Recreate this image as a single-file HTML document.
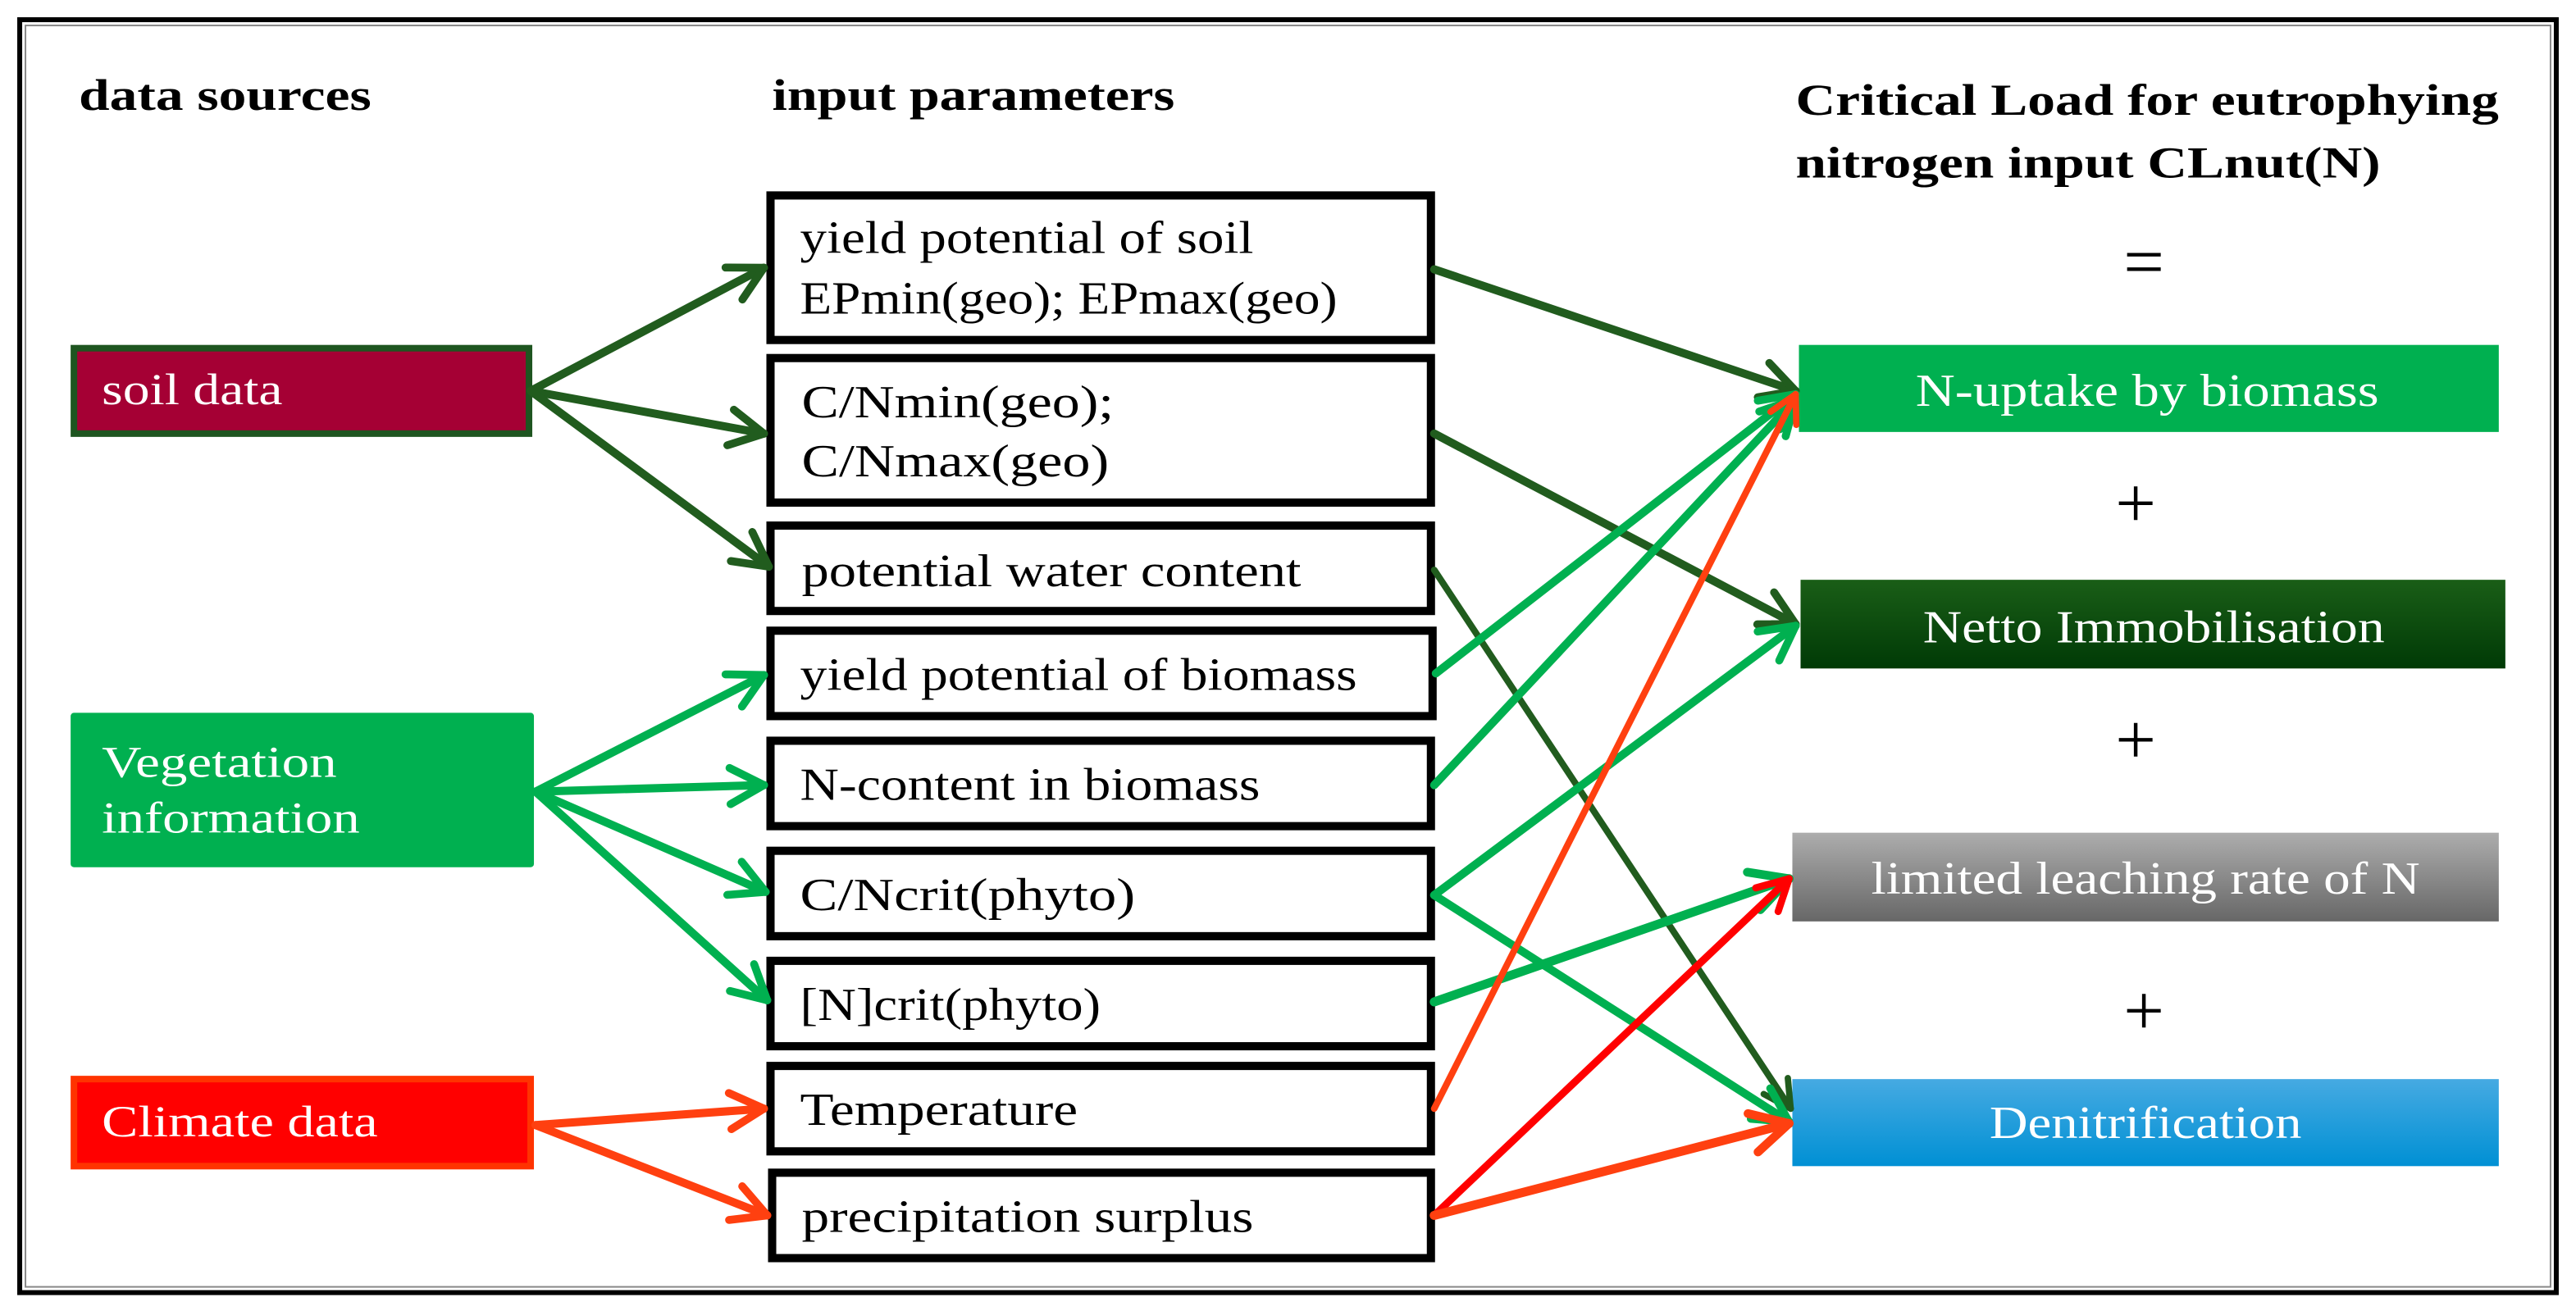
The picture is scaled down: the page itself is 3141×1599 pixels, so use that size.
<!DOCTYPE html>
<html><head><meta charset="utf-8"><style>
html,body{margin:0;padding:0;background:#fff}
svg{display:block}
text{font-family:"Liberation Serif",serif}
</style></head><body>
<svg width="3141" height="1599" viewBox="0 0 1568 798.2" preserveAspectRatio="none" xmlns="http://www.w3.org/2000/svg">
<defs>
<linearGradient id="gN" x1="0" y1="0" x2="0" y2="1"><stop offset="0" stop-color="#1a5e17"/><stop offset="1" stop-color="#003a06"/></linearGradient>
<linearGradient id="gG" x1="0" y1="0" x2="0" y2="1"><stop offset="0" stop-color="#adadad"/><stop offset="1" stop-color="#676767"/></linearGradient>
<linearGradient id="gB" x1="0" y1="0" x2="0" y2="1"><stop offset="0" stop-color="#46aae2"/><stop offset="1" stop-color="#0090d4"/></linearGradient>
<marker id="mD" viewBox="0 0 20 20" refX="18" refY="10" markerWidth="5.5" markerHeight="5.5" orient="auto" markerUnits="strokeWidth"><path d="M3,2 L18,10 L3,18" fill="none" stroke="#215c1e" stroke-width="3.5" stroke-linecap="round" stroke-linejoin="round"/></marker>
<marker id="mL" viewBox="0 0 20 20" refX="18" refY="10" markerWidth="5.5" markerHeight="5.5" orient="auto" markerUnits="strokeWidth"><path d="M3,2 L18,10 L3,18" fill="none" stroke="#00b050" stroke-width="3.5" stroke-linecap="round" stroke-linejoin="round"/></marker>
<marker id="mO" viewBox="0 0 20 20" refX="18" refY="10" markerWidth="5.5" markerHeight="5.5" orient="auto" markerUnits="strokeWidth"><path d="M3,2 L18,10 L3,18" fill="none" stroke="#ff4010" stroke-width="3.5" stroke-linecap="round" stroke-linejoin="round"/></marker>
<marker id="mR" viewBox="0 0 20 20" refX="18" refY="10" markerWidth="5.5" markerHeight="5.5" orient="auto" markerUnits="strokeWidth"><path d="M3,2 L18,10 L3,18" fill="none" stroke="#ff0000" stroke-width="3.5" stroke-linecap="round" stroke-linejoin="round"/></marker>
</defs>
<rect x="0" y="0" width="1568" height="798.2" fill="#fff"/>
<rect x="12" y="12" width="1544" height="775" fill="none" stroke="#000" stroke-width="3"/>
<rect x="15.5" y="15.5" width="1537" height="768" fill="none" stroke="#888" stroke-width="1"/>

<g font-weight="bold" font-size="27" fill="#000">
<text x="48" y="67" textLength="178" lengthAdjust="spacingAndGlyphs">data sources</text>
<text x="470" y="67" textLength="245" lengthAdjust="spacingAndGlyphs">input parameters</text>
<text x="1093" y="70" textLength="428" lengthAdjust="spacingAndGlyphs">Critical Load for eutrophying</text>
<text x="1093" y="108" textLength="356" lengthAdjust="spacingAndGlyphs">nitrogen input CLnut(N)</text>
</g>
<g font-size="44" fill="#000" text-anchor="middle">
<text x="1305" y="174">=</text>
<text x="1300" y="321">+</text>
<text x="1300" y="465">+</text>
<text x="1305" y="630">+</text>
</g>

<rect x="45" y="212" width="277" height="52" fill="#a50034" stroke="#1e5520" stroke-width="4"/>
<text x="62" y="246" font-size="27" fill="#fff" textLength="110" lengthAdjust="spacingAndGlyphs">soil data</text>
<rect x="43" y="434" width="282" height="94" fill="#00b050" rx="2"/>
<text x="62" y="473" font-size="27" fill="#fff" textLength="143" lengthAdjust="spacingAndGlyphs">Vegetation</text>
<text x="62" y="507" font-size="27" fill="#fff" textLength="157" lengthAdjust="spacingAndGlyphs">information</text>
<rect x="45" y="657" width="278" height="53" fill="#ff0000" stroke="#ff3300" stroke-width="4"/>
<text x="62" y="692" font-size="27" fill="#fff" textLength="168" lengthAdjust="spacingAndGlyphs">Climate data</text>

<g fill="#fff" stroke="#000" stroke-width="5">
<rect x="469" y="119" width="402" height="88"/>
<rect x="469" y="218" width="402" height="88"/>
<rect x="469" y="320" width="402" height="52"/>
<rect x="469" y="384" width="403" height="52"/>
<rect x="469" y="451" width="402" height="52"/>
<rect x="469" y="518" width="402" height="52"/>
<rect x="469" y="585" width="402" height="52"/>
<rect x="469" y="649" width="402" height="52"/>
<rect x="470" y="714" width="401" height="52"/>
</g>
<g font-size="28" fill="#000">
<text x="487" y="154" textLength="276" lengthAdjust="spacingAndGlyphs">yield potential of soil</text>
<text x="487" y="191" textLength="327" lengthAdjust="spacingAndGlyphs">EPmin(geo); EPmax(geo)</text>
<text x="488" y="254" textLength="190" lengthAdjust="spacingAndGlyphs">C/Nmin(geo);</text>
<text x="488" y="290" textLength="187" lengthAdjust="spacingAndGlyphs">C/Nmax(geo)</text>
<text x="488" y="357" textLength="304" lengthAdjust="spacingAndGlyphs">potential water content</text>
<text x="487" y="420" textLength="339" lengthAdjust="spacingAndGlyphs">yield potential of biomass</text>
<text x="487" y="487" textLength="280" lengthAdjust="spacingAndGlyphs">N-content in biomass</text>
<text x="487" y="554" textLength="204" lengthAdjust="spacingAndGlyphs">C/Ncrit(phyto)</text>
<text x="487" y="621" textLength="183" lengthAdjust="spacingAndGlyphs">[N]crit(phyto)</text>
<text x="487" y="685" textLength="169" lengthAdjust="spacingAndGlyphs">Temperature</text>
<text x="488" y="750" textLength="275" lengthAdjust="spacingAndGlyphs">precipitation surplus</text>
</g>

<rect x="1095" y="210" width="426" height="53" fill="#00b050"/>
<rect x="1096" y="353" width="429" height="54" fill="url(#gN)"/>
<rect x="1091" y="507" width="430" height="54" fill="url(#gG)"/>
<rect x="1091" y="657" width="430" height="53" fill="url(#gB)"/>
<g font-size="28" fill="#fff" text-anchor="middle">
<text x="1307" y="247" textLength="282" lengthAdjust="spacingAndGlyphs">N-uptake by biomass</text>
<text x="1311" y="391" textLength="281" lengthAdjust="spacingAndGlyphs">Netto Immobilisation</text>
<text x="1306" y="544" textLength="334" lengthAdjust="spacingAndGlyphs">limited leaching rate of N</text>
<text x="1306" y="693" textLength="190" lengthAdjust="spacingAndGlyphs">Denitrification</text>
</g>

<g fill="none" stroke-width="5" stroke-linecap="round">
<line x1="323" y1="238" x2="465" y2="163" stroke="#215c1e" marker-end="url(#mD)"/>
<line x1="323" y1="238" x2="465" y2="264" stroke="#215c1e" marker-end="url(#mD)"/>
<line x1="323" y1="238" x2="468" y2="345" stroke="#215c1e" marker-end="url(#mD)"/>
<line x1="326" y1="482" x2="465" y2="411" stroke="#00b050" marker-end="url(#mL)"/>
<line x1="326" y1="482" x2="465" y2="478" stroke="#00b050" marker-end="url(#mL)"/>
<line x1="326" y1="482" x2="466" y2="543" stroke="#00b050" marker-end="url(#mL)"/>
<line x1="326" y1="482" x2="467" y2="609" stroke="#00b050" marker-end="url(#mL)"/>
<line x1="326" y1="685" x2="465" y2="675" stroke="#ff4010" marker-end="url(#mO)"/>
<line x1="326" y1="685" x2="467" y2="740" stroke="#ff4010" marker-end="url(#mO)"/>
</g>
<g fill="none" stroke-linecap="round">
<line x1="873" y1="164" x2="1093" y2="238" stroke="#215c1e" stroke-width="5" marker-end="url(#mD)"/>
<line x1="873" y1="264" x2="1093" y2="380" stroke="#215c1e" stroke-width="5" marker-end="url(#mD)"/>
<line x1="873" y1="347" x2="1090" y2="675" stroke="#215c1e" stroke-width="4" marker-end="url(#mD)"/>
<line x1="874" y1="410" x2="1093" y2="240" stroke="#00b050" stroke-width="5" marker-end="url(#mL)"/>
<line x1="873" y1="478" x2="1093" y2="243" stroke="#00b050" stroke-width="5" marker-end="url(#mL)"/>
<line x1="873" y1="545" x2="1093" y2="381" stroke="#00b050" stroke-width="5" marker-end="url(#mL)"/>
<line x1="873" y1="545" x2="1089" y2="683" stroke="#00b050" stroke-width="5" marker-end="url(#mL)"/>
<line x1="873" y1="610" x2="1089" y2="535" stroke="#00b050" stroke-width="5.5" marker-end="url(#mL)"/>
<line x1="873" y1="675" x2="1093" y2="240" stroke="#ff4010" stroke-width="4" marker-end="url(#mO)"/>
<line x1="873" y1="740" x2="1089" y2="535" stroke="#ff0000" stroke-width="4.5" marker-end="url(#mR)"/>
<line x1="873" y1="740" x2="1089" y2="684" stroke="#ff4010" stroke-width="5.5" marker-end="url(#mO)"/>
</g>
</svg>
</body></html>
